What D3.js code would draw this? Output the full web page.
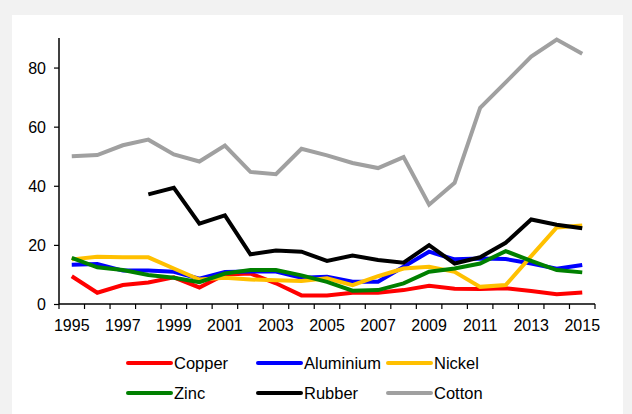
<!DOCTYPE html>
<html lang="en">
<head>
<meta charset="UTF-8">
<title>Commodity prices</title>
<script src="https://d3js.org/d3.v7.min.js"></script>
<style>
  body { margin: 0; background: #f2f2f2; font-family: "Liberation Sans", Arial, sans-serif; }
  #panel { position: absolute; left: 12px; top: 15px; width: 611px; height: 399px; background: #fff; }
  svg { position: absolute; left: 0; top: 0; }
  .tick text { font-size: 16px; fill: #000; font-family: "Liberation Sans", Arial, sans-serif; }
  .legend text { font-size: 16.5px; fill: #000; }
</style>
</head>
<body>
<div id="panel"></div>
<script>
// years on the x axis
var years = d3.range(1995, 2016);

// series values (null = no data)
var copper    = [9.4, 3.8, 6.4, 7.3, 9.0, 5.6, 10.0, 10.3, 7.0, 2.9, 2.9, 3.8, 3.8, 4.7, 6.2, 5.2, 5.1, 5.3, 4.4, 3.3, 3.9];
var aluminium = [13.3, 13.5, 11.3, 11.3, 10.9, 8.6, 10.8, 11.0, 11.0, 8.9, 9.2, 7.5, 7.5, 12.6, 17.7, 15.1, 15.4, 15.2, 13.7, 11.9, 13.2];
var nickel    = [15.1, 16.0, 15.8, 15.8, 12.0, 8.3, 8.9, 8.3, 8.0, 7.8, 8.7, 6.4, 9.4, 12.0, 12.6, 10.9, 5.8, 6.4, 16.2, 25.9, 26.6];
var zinc      = [15.6, 12.4, 11.5, 9.8, 8.9, 7.4, 10.3, 11.5, 11.5, 9.7, 7.5, 4.5, 4.7, 7.0, 10.9, 12.0, 13.7, 17.9, 14.6, 11.5, 10.7];
var rubber    = [null, null, null, 37.1, 39.3, 27.2, 30.0, 16.8, 18.1, 17.7, 14.6, 16.4, 14.9, 14.0, 19.9, 13.7, 15.8, 20.7, 28.6, 26.8, 25.6];
var cotton    = [50.0, 50.4, 53.7, 55.6, 50.6, 48.2, 53.6, 44.7, 43.9, 52.5, 50.3, 47.7, 46.0, 49.7, 33.6, 41.0, 66.4, 75.0, 83.7, 89.5, 84.7];

var yTicks = [0, 20, 40, 60, 80];
var seriesNames = ["Copper", "Aluminium", "Nickel", "Zinc", "Rubber", "Cotton"];
var seriesColors = ["#ff0000", "#0000ff", "#ffc000", "#008000", "#000000", "#a0a0a0"];

var series = [copper, aluminium, nickel, zinc, rubber, cotton].map(function(v, i) {
  return { name: seriesNames[i], color: seriesColors[i], values: v };
});

var width = 632, height = 414;
var svg = d3.select("body").append("svg")
  .attr("width", width)
  .attr("height", height);

var mLeft = 59, mRight = 595, mTop = 38, mBottom = 304;

var x = d3.scaleBand().domain(years).range([mLeft, mRight]).padding(0);
var y = d3.scaleLinear().domain([0, 90]).range([mBottom, mTop]);

// x axis: ticks at category boundaries, labels on odd years
var xg = svg.append("g").attr("transform", "translate(0," + mBottom + ")");
xg.append("line")
  .attr("x1", mLeft).attr("x2", mRight)
  .attr("stroke", "#000").attr("stroke-width", 1.5);
xg.selectAll(".xt")
  .data(years.concat([2016]))
  .enter().append("line")
  .attr("x1", function(d) { return d === 2016 ? mRight : x(d); })
  .attr("x2", function(d) { return d === 2016 ? mRight : x(d); })
  .attr("y1", 0).attr("y2", 5)
  .attr("stroke", "#000").attr("stroke-width", 1.2);
xg.selectAll(".xl")
  .data(years.filter(function(d) { return d % 2 === 1; }))
  .enter().append("text")
  .attr("x", function(d) { return x(d) + x.bandwidth() / 2; })
  .attr("y", 27)
  .attr("text-anchor", "middle")
  .style("font-size", "16px")
  .text(function(d) { return d; });

// y axis
var yAxis = d3.axisLeft(y).tickValues(yTicks).tickSize(5).tickPadding(8);
var yg = svg.append("g").attr("transform", "translate(" + mLeft + ",0)").call(yAxis);
yg.select(".domain").attr("stroke-width", 1.5).attr("d", "M0," + mBottom + "V" + mTop);
yg.selectAll(".tick line").attr("stroke-width", 1.2);
yg.selectAll(".tick text").attr("dy", "0.36em");

// lines
var line = d3.line()
  .defined(function(d) { return d != null; })
  .x(function(d, i) { return x(years[i]) + x.bandwidth() / 2; })
  .y(function(d) { return y(d); });

svg.selectAll(".series")
  .data(series)
  .enter().append("path")
  .attr("fill", "none")
  .attr("stroke", function(d) { return d.color; })
  .attr("stroke-width", 4)
  .attr("d", function(d) { return line(d.values); });

// legend
var legend = svg.selectAll(".legend")
  .data(series)
  .enter().append("g")
  .attr("class", "legend")
  .attr("transform", function(d, i) {
    return "translate(" + (128 + (i % 3) * 130) + "," + (363 + Math.floor(i / 3) * 30) + ")";
  });
legend.append("line")
  .attr("x1", 0).attr("x2", 43)
  .attr("stroke", function(d) { return d.color; })
  .attr("stroke-width", 4)
  .attr("stroke-linecap", "round");
legend.append("text")
  .attr("x", 46)
  .attr("y", 6)
  .text(function(d) { return d.name; });
</script>
</body>
</html>
